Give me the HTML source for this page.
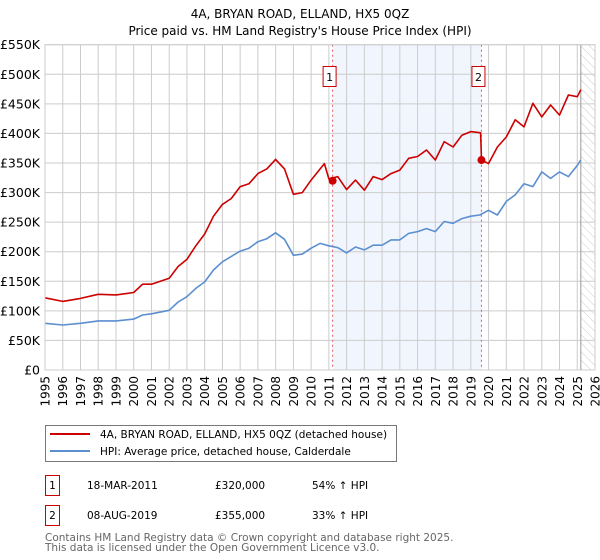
<!DOCTYPE html>
<html><head><meta charset="utf-8"><style>
body{margin:0;background:#fff;font-family:"DejaVu Sans","Liberation Sans",sans-serif;}
svg{display:block}
</style></head><body>
<svg id="chart" width="600" height="560" xmlns="http://www.w3.org/2000/svg" font-family="DejaVu Sans, Liberation Sans, sans-serif">
<text x="300" y="18" text-anchor="middle" font-size="12" fill="#000">4A, BRYAN ROAD, ELLAND, HX5 0QZ</text>
<text x="300" y="35" text-anchor="middle" font-size="12" fill="#000">Price paid vs. HM Land Registry's House Price Index (HPI)</text>
<g id="plot"></g>
<g>
<rect x="45.5" y="425.5" width="351" height="36" fill="#fff" stroke="#777"/>
<line x1="50" y1="434" x2="90" y2="434" stroke="#cc0000" stroke-width="2"/>
<text x="100" y="438" font-size="10.5">4A, BRYAN ROAD, ELLAND, HX5 0QZ (detached house)</text>
<line x1="50" y1="451" x2="90" y2="451" stroke="#5b8fd0" stroke-width="2"/>
<text x="100" y="455" font-size="10.5">HPI: Average price, detached house, Calderdale</text>
</g>
<g font-size="10.5">
<rect x="45.5" y="475.5" width="14" height="20" fill="#fff" stroke="#cc0000"/>
<text x="52.5" y="489" text-anchor="middle">1</text>
<text x="87" y="489">18-MAR-2011</text>
<text x="215" y="489">£320,000</text>
<text x="312" y="489">54% ↑ HPI</text>
<rect x="45.5" y="505.5" width="14" height="20" fill="#fff" stroke="#cc0000"/>
<text x="52.5" y="519" text-anchor="middle">2</text>
<text x="87" y="519">08-AUG-2019</text>
<text x="215" y="519">£355,000</text>
<text x="312" y="519">33% ↑ HPI</text>
</g>
<text x="45" y="541" font-size="10.5" fill="#666">Contains HM Land Registry data © Crown copyright and database right 2025.</text>
<text x="45" y="551" font-size="10.5" fill="#666">This data is licensed under the Open Government Licence v3.0.</text>
</svg>
<script>
const years=[1995,1996,1997,1998,1999,2000,2001,2002,2003,2004,2005,2006,2007,2008,2009,2010,2011,2012,2013,2014,2015,2016,2017,2018,2019,2020,2021,2022,2023,2024,2025,2026];
const yTicks=[0,50000,100000,150000,200000,250000,300000,350000,400000,450000,500000,550000];
const yTickLabels=["£0","£50K","£100K","£150K","£200K","£250K","£300K","£350K","£400K","£450K","£500K","£550K"];
const hpiT=[1995,1996,1997,1998,1999,2000,2000.5,2001,2002,2002.5,2003,2003.5,2004,2004.5,2005,2005.5,2006,2006.5,2007,2007.5,2008,2008.5,2009,2009.5,2010,2010.5,2011,2011.5,2012,2012.5,2013,2013.5,2014,2014.5,2015,2015.5,2016,2016.5,2017,2017.5,2018,2018.5,2019,2019.5,2020,2020.5,2021,2021.5,2022,2022.5,2023,2023.5,2024,2024.5,2025,2025.2];
const hpiV=[79,76,79,83,83,86,93,95,101,115,124,138,149,169,183,192,201,206,217,222,232,221,194,196,206,214,210,207,198,208,203,211,211,220,220,231,234,239,234,251,248,256,260,262,270,262,285,296,315,310,335,324,335,327,346,355];
const redT=[1995,1996,1997,1998,1999,2000,2000.5,2001,2002,2002.5,2003,2003.5,2004,2004.5,2005,2005.5,2006,2006.5,2007,2007.5,2008,2008.5,2009,2009.5,2010,2010.75,2011,2011.5,2012,2012.5,2013,2013.5,2014,2014.5,2015,2015.5,2016,2016.5,2017,2017.5,2018,2018.5,2019,2019.55,2019.6,2020,2020.5,2021,2021.5,2022,2022.5,2023,2023.5,2024,2024.5,2025,2025.2];
const redV=[122,116,121,128,127,131,145,145,155,175,187,210,230,260,280,290,310,315,332,340,356,340,297,300,321,349,323,327,305,321,304,327,322,332,338,358,361,372,355,386,377,397,403,401,355,349,377,394,423,411,451,428,448,431,465,462,474];
const saleT=[2011.21,2019.6];
const saleV=[320,355];
const saleLabels=["1","2"];

const NS="http://www.w3.org/2000/svg";
const L=45,R=595,T=44.7,B=370;
const x=t=>L+(t-1995)*(R-L)/31;
const y=v=>B-v*(B-T)/550000;
const g=document.getElementById('plot');
function mk(tag,attrs){const e=document.createElementNS(NS,tag);for(const k in attrs)e.setAttribute(k,attrs[k]);g.appendChild(e);return e;}
let sh=mk('rect',{x:x(saleT[0]),y:T,width:x(saleT[1])-x(saleT[0]),height:B-T,fill:'#eef2fc',opacity:0.8});


const defs=document.createElementNS(NS,'defs');
defs.innerHTML='<pattern id="hatch" width="6" height="6" patternUnits="userSpaceOnUse" patternTransform="rotate(-45)"><line x1="0" y1="0" x2="0" y2="6" stroke="#ccc" stroke-width="1"/></pattern>';
g.appendChild(defs);
let hz=mk('rect',{x:x(2025.2),y:T,width:R-x(2025.2),height:B-T,fill:'url(#hatch)'});


years.forEach(yr=>{
  let l=mk('line',{x1:x(yr),x2:x(yr),y1:T,y2:B,stroke:'#ccc','stroke-width':1});
  
  
  let t=mk('text',{x:0,y:0,'font-size':12,'text-anchor':'end',transform:`translate(${x(yr)+4.5},${B+6}) rotate(-90)`});
  t.textContent=yr;
  
  
});
yTicks.forEach((v,i)=>{
  let l=mk('line',{x1:L,x2:R,y1:y(v),y2:y(v),stroke:'#ccc','stroke-width':1});
  
  
  let t=mk('text',{x:L-5,y:y(v)+4.5,'font-size':12.5,'text-anchor':'end'});
  t.textContent=yTickLabels[i];
  
  
});
let ed=mk('line',{x1:x(2025.2),x2:x(2025.2),y1:T,y2:B,stroke:'#999','stroke-width':1});


saleT.forEach((t,i)=>{
  let l=mk('line',{x1:x(t),x2:x(t),y1:T,y2:B,stroke:'#e06060','stroke-width':1,'stroke-dasharray':'2,3'});
  
  
  let r=mk('rect',{x:x(t)-9.5,y:66.5,width:13,height:20,fill:'#fff',stroke:'#cc0000'});
  
  
  let tx=mk('text',{x:x(t)-3,y:81,'font-size':11,'text-anchor':'middle'});
  tx.textContent=saleLabels[i];
  
  
});
function path(ts,vs,col,name){
  let d=ts.map((t,i)=>(i?'L':'M')+x(t).toFixed(1)+','+y(vs[i]*1000).toFixed(1)).join(' ');
  let p=mk('path',{d:d,fill:'none',stroke:col,'stroke-width':1.6,'stroke-linejoin':'round'});
  
  
}
path(hpiT,hpiV,'#5b8fd0','hpi-line');
path(redT,redV,'#cc0000','property-price-line');
saleT.forEach((t,i)=>{
  let c=mk('circle',{cx:x(t),cy:y(saleV[i]*1000),r:4,fill:'#cc0000'});
  
  
});
let bx=mk('rect',{x:L,y:T,width:R-L,height:B-T,fill:'none',stroke:'#ccc'});


</script>
</body></html>
